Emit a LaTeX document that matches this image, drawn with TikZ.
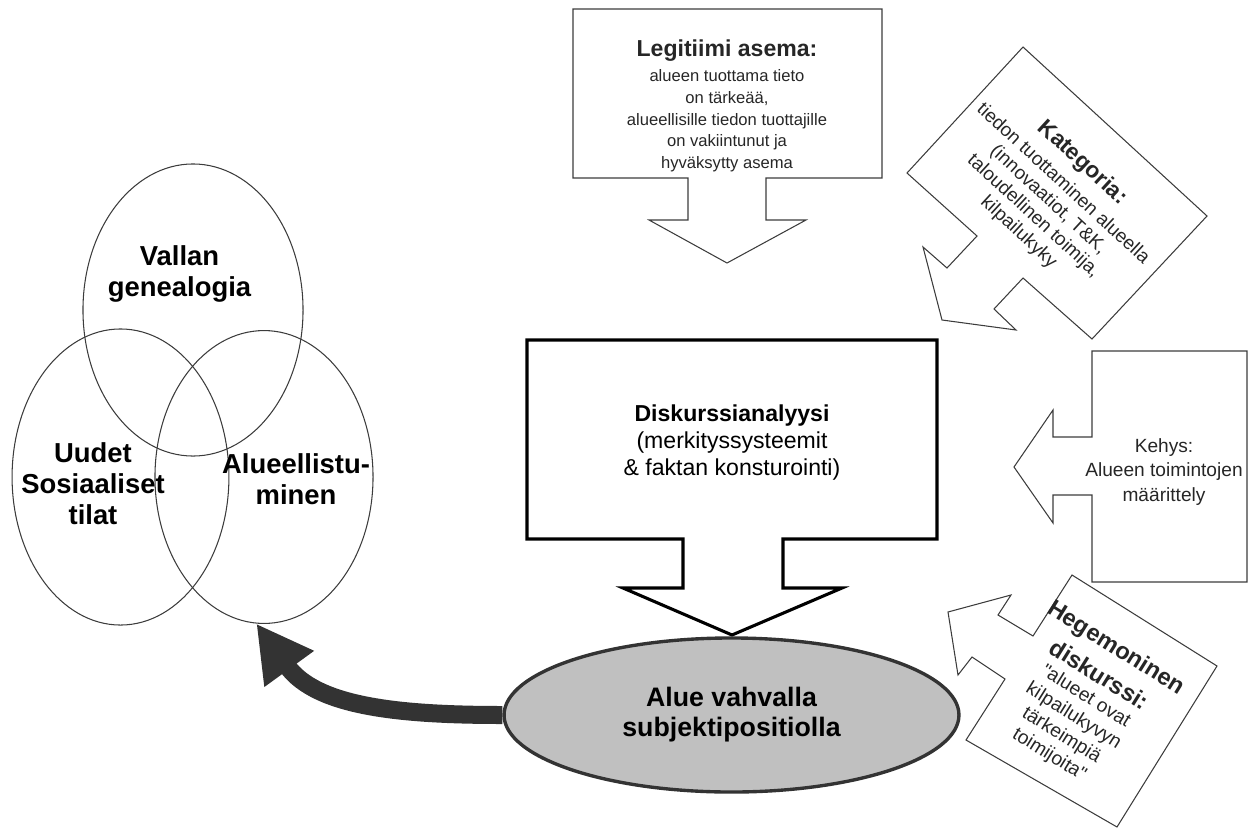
\documentclass[tikz,border=0pt]{standalone}
\usepackage{fontspec}
\setmainfont{Liberation Sans}
\newfontfamily\plainquote{Liberation Sans}
\usetikzlibrary{shapes.geometric,arrows.meta}
\definecolor{linegray}{HTML}{3C3C3C}
\definecolor{fillgray}{HTML}{C0C0C0}
\definecolor{darkgray}{HTML}{333333}
\newcommand{\fsz}[2]{\fontsize{#1}{#2}\selectfont}
\newcommand{\dq}{{\plainquote"}}

\begin{document}
\begin{tikzpicture}[x=0.025cm,y=-0.025cm,line join=miter,
  thinbox/.style={draw=linegray,line width=0.75pt},
  boldbox/.style={draw=black,line width=2.2pt},
  venn/.style={draw=linegray,line width=0.75pt,ellipse,inner sep=0pt},
  venntext/.style={align=center,font=\bfseries\fsz{19.5}{22}},
  boxtext/.style={align=center,text=black!85}]
\useasboundingbox (0,0) rectangle (1256,829);

% venn circles
\node[venn,minimum width=5.5cm,minimum height=7.3cm] (valta) at (193,310) {};
\node[venn,minimum width=5.42cm,minimum height=7.4cm] (uudet) at (120.5,477) {};
\node[venn,minimum width=5.45cm,minimum height=7.32cm] (ralue) at (264,477) {};
\node[venntext] (valtatxt) at (179.5,274) {Vallan\\genealogia};
\node[venntext] (uudettxt) at (93,484) {Uudet\\Sosiaaliset\\tilat};
\node[venntext] (raluetxt) at (296,479) {Alueellistu-\\minen};

% top box
\draw[thinbox] (573,9) -- (882,9) -- (882,178) -- (766,178) -- (766,220) -- (806,220)
  -- (727,263) -- (649,220) -- (688,220) -- (688,178) -- (573,178) -- cycle;
\node[boxtext,font=\fsz{11.8}{15.6}] (legit) at (727,106)
  {{\bfseries\fsz{16.4}{18}Legitiimi asema:}\\[2pt] alueen tuottama tieto\\on tärkeää,\\alueellisille tiedon tuottajille\\on vakiintunut ja\\hyväksytty asema};

% category box
\draw[thinbox] (907,173) -- (977,236) -- (947,268) -- (923,247) -- (942,320) -- (1016,330)
  -- (994,309) -- (1023,278) -- (1092,339) -- (1207,216) -- (1023,47) -- cycle;
\node[boxtext,font=\fsz{13.5}{15.6},rotate=-42.6] (kateg) at (1051,197)
  {{\bfseries\fsz{16.2}{18}Kategoria:}\\[4pt] tiedon tuottaminen alueella\\(innovaatiot, T\&K,\\taloudellinen toimija,\\kilpailukyky};

% frame box
\draw[thinbox] (1092,351) -- (1247,351) -- (1247,582) -- (1092,582) -- (1092,495) -- (1053,495)
  -- (1053,523) -- (1014,467) -- (1053,410) -- (1053,437) -- (1092,437) -- cycle;
\node[boxtext,font=\fsz{13.6}{17.7}] (kehys) at (1164,472) {Kehys:\\Alueen toimintojen\\määrittely};

% hegemony box
\draw[thinbox] (966,740) -- (1005,679) -- (972,657) -- (958,675) -- (948,612) -- (1011,595)
  -- (998,615) -- (1033,636) -- (1072,575) -- (1217,666) -- (1117,827) -- cycle;
\node[boxtext,font=\fsz{13.7}{16.3},rotate=-32] (hegem) at (1083,701)
  {{\bfseries\fsz{16.8}{18}Hegemoninen}\\[7pt]{\bfseries\fsz{16.8}{18}diskurssi:}\\\dq alueet ovat\\kilpailukyvyn\\tärkeimpiä\\toimijoita\dq};

% discourse analysis box
\draw[boldbox] (527,340) -- (937,340) -- (937,539) -- (783,539) -- (783,588) -- (842,588)
  -- (732,635) -- (623,588) -- (683,588) -- (683,539) -- (527,539) -- cycle;
\node[boxtext,text=black,font=\fsz{16.4}{19.2}] (diskurssi) at (732,443)
  {{\bfseries Diskurssianalyysi}\\(merkityssysteemit\\\& faktan konsturointi)};

% subject position
\node[draw=darkgray,line width=2.4pt,fill=fillgray,ellipse,minimum width=11.37cm,minimum height=3.85cm,
  align=center,font=\bfseries\fsz{19}{21.3}] (alue) at (731.5,715) {Alue vahvalla\\subjektipositiolla};

\draw[darkgray,line width=0.45cm,-{Triangle[length=1.4cm,width=1.43cm]}]
  (alue.west) to[out=180,in=-54] (ralue.-93);
\end{tikzpicture}
\end{document}
